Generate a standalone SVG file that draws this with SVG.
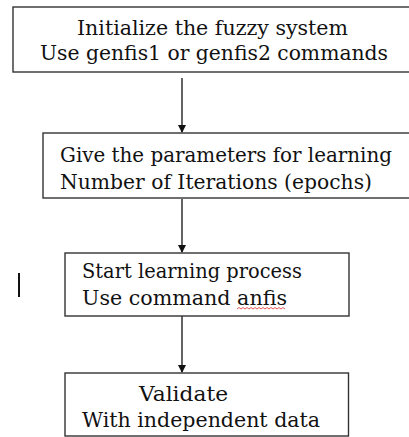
<svg xmlns="http://www.w3.org/2000/svg" width="409" height="437" viewBox="0 0 409 437">
<style>
.box{fill:#fff;stroke:#333;stroke-width:1.4}
.t{font-family:"DejaVu Serif","Liberation Serif",serif;font-size:20px;fill:#111}
.c{stroke:#111;stroke-width:1.3;fill:none}
</style>
<defs>
<marker id="ah" markerWidth="8" markerHeight="8" refX="7" refY="4" orient="auto" markerUnits="userSpaceOnUse">
<path d="M0,0 L8,4 L0,8 Z" fill="#111"/>
</marker>
</defs>
<rect width="409" height="437" fill="#fff"/>
<g id="connectors">
<line class="c" x1="182" y1="78" x2="182" y2="132" marker-end="url(#ah)"/>
<line class="c" x1="182" y1="199" x2="182" y2="252" marker-end="url(#ah)"/>
<line class="c" x1="182" y1="316" x2="182" y2="372" marker-end="url(#ah)"/>
</g>
<g id="n1">
<rect class="box" x="13" y="7" width="404" height="65"/>
<text class="t" x="77" y="35" textLength="271" lengthAdjust="spacingAndGlyphs">Initialize the fuzzy system</text>
<text class="t" x="40" y="60" textLength="348" lengthAdjust="spacingAndGlyphs">Use genfis1 or genfis2 commands</text>
</g>
<g id="n2">
<rect class="box" x="43" y="133" width="370" height="65"/>
<text class="t" x="60" y="162" textLength="332" lengthAdjust="spacingAndGlyphs">Give the parameters for learning</text>
<text class="t" x="60" y="189" textLength="312" lengthAdjust="spacingAndGlyphs">Number of Iterations (epochs)</text>
</g>
<g id="n3">
<rect class="box" x="65" y="253" width="284" height="63"/>
<text class="t" x="82" y="278" textLength="220" lengthAdjust="spacingAndGlyphs">Start learning process</text>
<text class="t" x="82" y="305" textLength="205" lengthAdjust="spacingAndGlyphs">Use command anfis</text>
<path d="M237,309 l2,-1.5 l2,1.5 l2,-1.5 l2,1.5 l2,-1.5 l2,1.5 l2,-1.5 l2,1.5 l2,-1.5 l2,1.5 l2,-1.5 l2,1.5 l2,-1.5 l2,1.5 l2,-1.5 l2,1.5 l2,-1.5 l2,1.5 l2,-1.5 l2,1.5 l2,-1.5 l2,1.5 l2,-1.5 l2,1.5" fill="none" stroke="#e03030" stroke-width="0.8"/>
</g>
<g id="n4">
<rect class="box" x="65" y="373" width="283.5" height="63"/>
<text class="t" x="139" y="401" textLength="89" lengthAdjust="spacingAndGlyphs">Validate</text>
<text class="t" x="82" y="427" textLength="238" lengthAdjust="spacingAndGlyphs">With independent data</text>
</g>
<line x1="19" y1="273" x2="19" y2="297" stroke="#111" stroke-width="2"/>
</svg>
